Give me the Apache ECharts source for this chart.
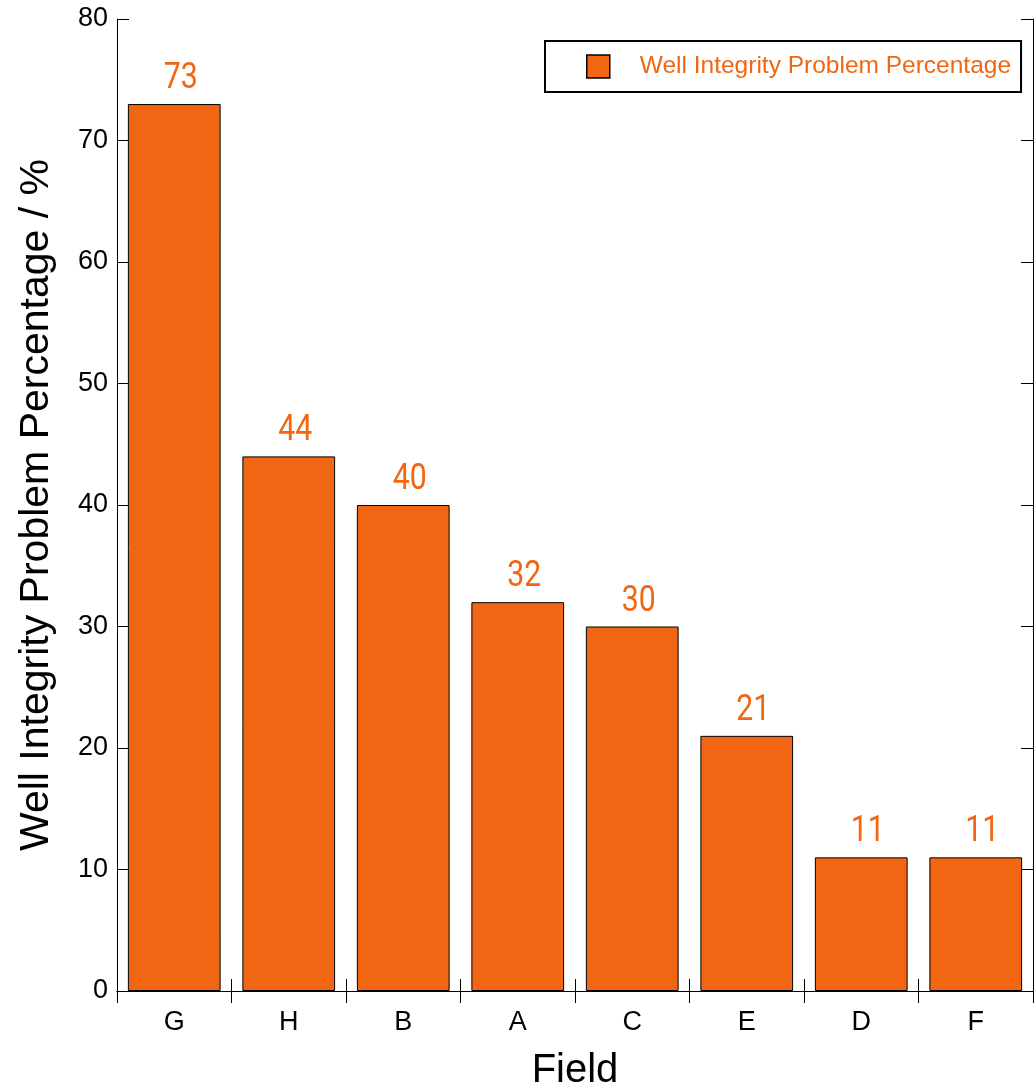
<!DOCTYPE html>
<html>
<head>
<meta charset="utf-8">
<script src="https://cdn.jsdelivr.net/npm/echarts@6/dist/echarts.min.js"></script>
<style>
  html, body { margin: 0; padding: 0; background: #fff; }
  #chart { width: 1035px; height: 1084px; }
</style>
</head>
<body>
<div id="chart"></div>
<script>
// Well integrity problem share per field
const fields = ['G', 'H', 'B', 'A', 'C', 'E', 'D', 'F'];
const problemPct = [73, 44, 40, 32, 30, 21, 11, 11];
const seriesName = 'Well Integrity Problem Percentage';
const yTitle = 'Well Integrity Problem Percentage / %';
const xTitle = 'Field';

const orange = '#F06612';
const sans = "'Liberation Sans', Arial, sans-serif";
const chart = echarts.init(document.getElementById('chart'), null, { renderer: 'canvas' });

const tickStyle = { show: true, inside: true, length: 12, lineStyle: { color: '#000', width: 1 } };
const lineStyle = { show: true, lineStyle: { color: '#000', width: 1 } };

// value labels drawn in a condensed style (horizontally squeezed text)
function renderValueLabel(params, api) {
  const pt = api.coord([api.value(0), api.value(1)]);
  return {
    type: 'text',
    x: pt[0] + 6.5,
    y: pt[1] - 7,
    scaleX: 0.84,
    silent: true,
    style: {
      text: String(api.value(1)),
      fill: orange,
      fontSize: 36,
      fontFamily: 'Roboto, sans-serif',
      align: 'center',
      verticalAlign: 'bottom'
    }
  };
}

chart.setOption({
  animation: false,
  backgroundColor: '#fff',
  grid: { left: 117, right: 2, top: 19, bottom: 93, containLabel: false, outerBoundsMode: 'none' },
  legend: {
    left: 545, top: 41,
    data: [seriesName],
    icon: 'rect',
    itemWidth: 23, itemHeight: 23,
    borderColor: '#000', borderWidth: 2, borderRadius: 0,
    padding: [13, 10, 13, 41],
    itemStyle: { borderColor: '#000', borderWidth: 1.5 },
    textStyle: { color: orange, fontSize: 24.5, fontFamily: sans, padding: [0, 0, 0, 25] }
  },
  xAxis: [
    {
      type: 'category', data: fields, position: 'bottom',
      axisLine: lineStyle, axisTick: tickStyle,
      axisLabel: { color: '#000', fontSize: 27, fontFamily: sans, margin: 18 },
      name: xTitle, nameLocation: 'middle', nameGap: 60,
      nameTextStyle: { color: '#000', fontSize: 40, fontFamily: sans },
      splitLine: { show: false }
    },
    {
      type: 'category', data: fields, position: 'top',
      axisLine: lineStyle, axisTick: tickStyle,
      axisLabel: { show: false }, splitLine: { show: false }
    }
  ],
  yAxis: [
    {
      type: 'value', min: 0, max: 80, interval: 10, position: 'left',
      axisLine: lineStyle, axisTick: tickStyle,
      axisLabel: { color: '#000', fontSize: 27, fontFamily: sans, margin: 9 },
      splitLine: { show: false },
      name: yTitle, nameLocation: 'middle', nameGap: 60,
      nameTextStyle: { color: '#000', fontSize: 41, fontFamily: sans }
    },
    {
      type: 'value', min: 0, max: 80, interval: 10, position: 'right',
      axisLine: lineStyle, axisTick: tickStyle,
      axisLabel: { show: false }, splitLine: { show: false }
    }
  ],
  series: [
    {
      name: seriesName,
      type: 'bar',
      data: problemPct,
      barCategoryGap: '19%',
      itemStyle: { color: orange, borderColor: '#000', borderWidth: 1 }
    },
    {
      name: 'value labels',
      type: 'custom',
      data: fields.map((f, i) => [f, problemPct[i]]),
      encode: { x: 0, y: 1 },
      renderItem: renderValueLabel,
      z: 5
    }
  ]
});
</script>
</body>
</html>
